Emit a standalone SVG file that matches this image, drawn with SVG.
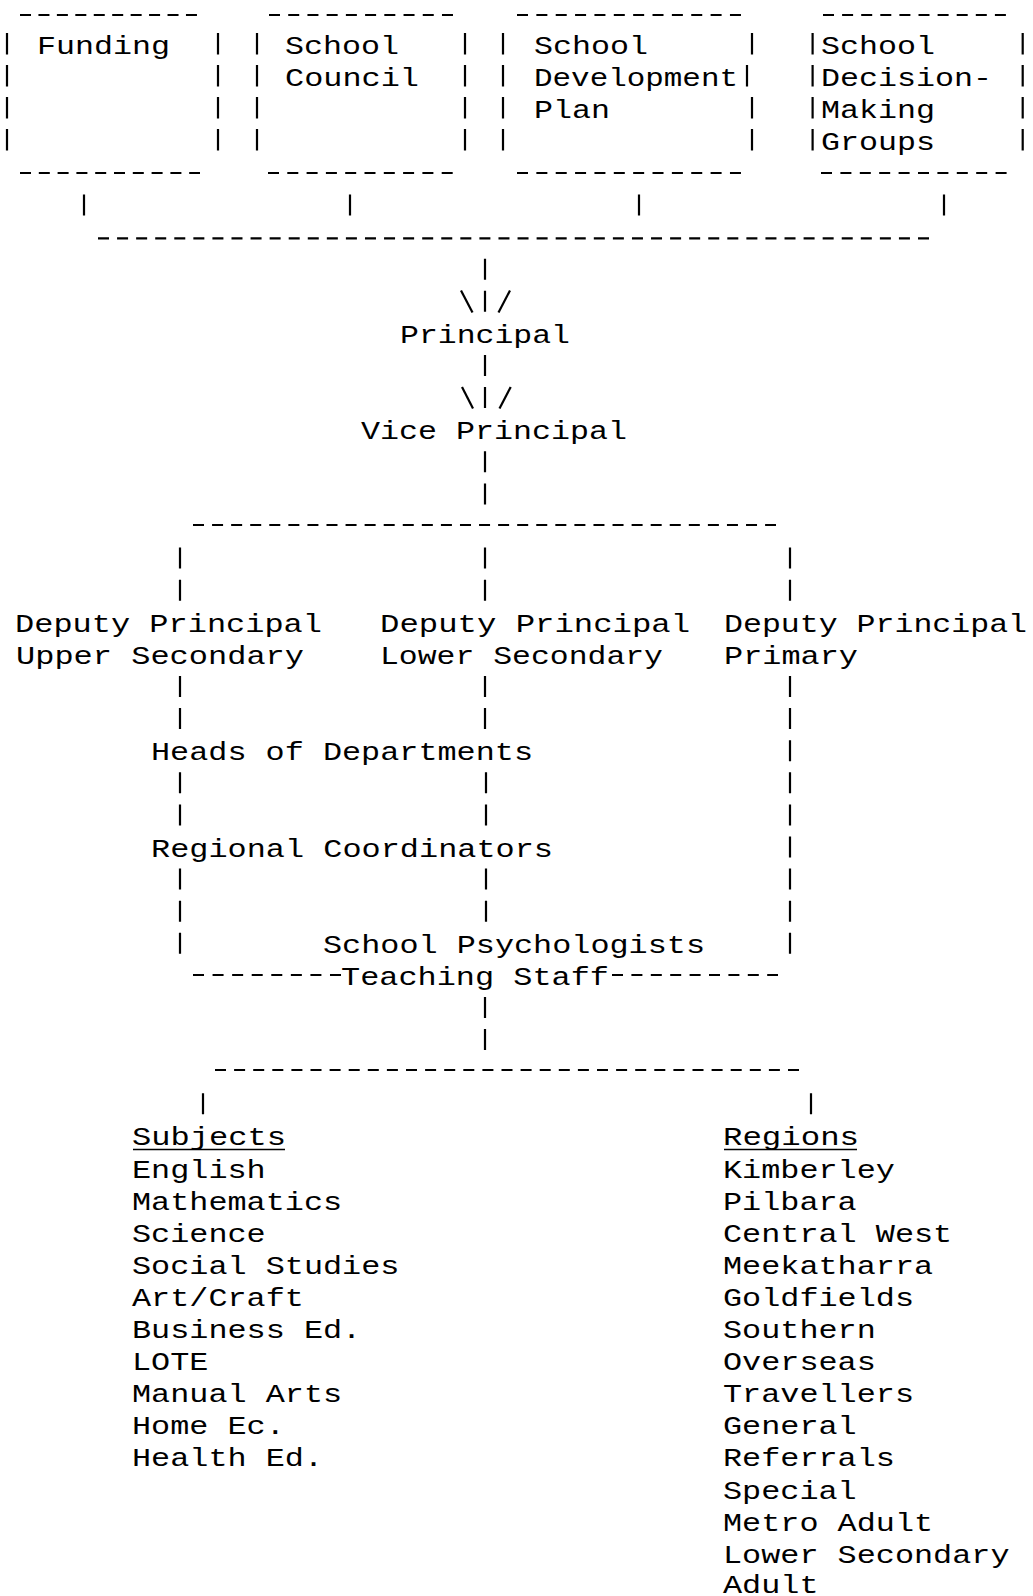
<svg xmlns="http://www.w3.org/2000/svg" width="1033" height="1596" viewBox="0 0 1033 1596">
  <style>
    .t { font-family: "Liberation Mono", "DejaVu Sans Mono", monospace; font-size: 26px; fill: #000; }
    .pipe { stroke: #000; stroke-width: 2.2; fill: none; }
    .dash { stroke: #000; stroke-width: 2.2; fill: none; }
    .ul { stroke: #000; stroke-width: 1.6; }
  </style>
  <rect width="1033" height="1596" fill="#fff"/>

  <!-- top row of boxed inputs -->
  <g id="node-funding">
    <line class="dash" x1="20" y1="15" x2="197" y2="15" stroke-dasharray="11 7.44"/>
    <line class="dash" x1="20" y1="173" x2="200" y2="173" stroke-dasharray="11 7.8"/>
    <path class="pipe" d="M7 33V54.5M7 65V86.5M7 97V118.5M7 129V150.5M218 33V54.5M218 65V86.5M218 97V118.5M218 129V150.5"/>
    <text class="t" x="37" y="54" textLength="133" lengthAdjust="spacingAndGlyphs">Funding</text>
  </g>
  <g id="node-school-council">
    <line class="dash" x1="269" y1="15" x2="453" y2="15" stroke-dasharray="11 8.22"/>
    <line class="dash" x1="268" y1="173" x2="453" y2="173" stroke-dasharray="11 8.3"/>
    <path class="pipe" d="M257 33V54.5M257 65V86.5M257 97V118.5M257 129V150.5M465 33V54.5M465 65V86.5M465 97V118.5M465 129V150.5"/>
    <text class="t" x="285" y="54" textLength="114" lengthAdjust="spacingAndGlyphs">School</text>
    <text class="t" x="285" y="86.1" textLength="134" lengthAdjust="spacingAndGlyphs">Council</text>
  </g>
  <g id="node-development-plan">
    <line class="dash" x1="517" y1="15" x2="741" y2="15" stroke-dasharray="11 8.36"/>
    <line class="dash" x1="517" y1="173" x2="741" y2="173" stroke-dasharray="11 8.36"/>
    <path class="pipe" d="M503 33V54.5M503 65V86.5M503 97V118.5M503 129V150.5M752 33V54.5M747 65V86.5M752 97V118.5M752 129V150.5"/>
    <text class="t" x="534" y="54" textLength="114" lengthAdjust="spacingAndGlyphs">School</text>
    <text class="t" x="534" y="86.1" textLength="204" lengthAdjust="spacingAndGlyphs">Development</text>
    <text class="t" x="534" y="118.2" textLength="76" lengthAdjust="spacingAndGlyphs">Plan</text>
  </g>
  <g id="node-decision-groups">
    <line class="dash" x1="823" y1="15" x2="1006" y2="15" stroke-dasharray="11 8.1"/>
    <line class="dash" x1="821" y1="173" x2="1007" y2="173" stroke-dasharray="11 8.4"/>
    <path class="pipe" d="M812.6 33V54.5M812.6 65V86.5M812.6 97V118.5M812.6 129V150.5M1022.7 33V54.5M1022.7 65V86.5M1022.7 97V118.5M1022.7 129V150.5"/>
    <text class="t" x="821" y="54" textLength="114" lengthAdjust="spacingAndGlyphs">School</text>
    <text class="t" x="821" y="86.1" textLength="171" lengthAdjust="spacingAndGlyphs">Decision-</text>
    <text class="t" x="821" y="118.2" textLength="114" lengthAdjust="spacingAndGlyphs">Making</text>
    <text class="t" x="821" y="150.3" textLength="114" lengthAdjust="spacingAndGlyphs">Groups</text>
  </g>

  <!-- management chain -->
  <g id="node-principal">
    <text class="t" x="400" y="342.9" textLength="170" lengthAdjust="spacingAndGlyphs">Principal</text>
  </g>
  <g id="node-vice-principal">
    <text class="t" x="361" y="439.2" textLength="266" lengthAdjust="spacingAndGlyphs">Vice Principal</text>
  </g>
  <g id="node-dp-upper">
    <text class="t" x="15" y="631.8" textLength="307" lengthAdjust="spacingAndGlyphs">Deputy Principal</text>
    <text class="t" x="16" y="663.9" textLength="288" lengthAdjust="spacingAndGlyphs">Upper Secondary</text>
  </g>
  <g id="node-dp-lower">
    <text class="t" x="380" y="631.8" textLength="310" lengthAdjust="spacingAndGlyphs">Deputy Principal</text>
    <text class="t" x="380" y="663.9" textLength="283" lengthAdjust="spacingAndGlyphs">Lower Secondary</text>
  </g>
  <g id="node-dp-primary">
    <text class="t" x="724" y="631.8" textLength="303" lengthAdjust="spacingAndGlyphs">Deputy Principal</text>
    <text class="t" x="724" y="663.9" textLength="134" lengthAdjust="spacingAndGlyphs">Primary</text>
  </g>
  <g id="node-heads">
    <text class="t" x="151" y="760.2" textLength="382" lengthAdjust="spacingAndGlyphs">Heads of Departments</text>
  </g>
  <g id="node-regional">
    <text class="t" x="151" y="856.5" textLength="402" lengthAdjust="spacingAndGlyphs">Regional Coordinators</text>
  </g>
  <g id="node-psychologists">
    <text class="t" x="323" y="952.8" textLength="382" lengthAdjust="spacingAndGlyphs">School Psychologists</text>
  </g>
  <g id="node-teaching-staff">
    <text class="t" x="341" y="984.9" textLength="268" lengthAdjust="spacingAndGlyphs">Teaching Staff</text>
  </g>

  <!-- subject and region lists -->
  <g id="node-subjects">
    <text class="t" x="132" y="1145.4" textLength="154" lengthAdjust="spacingAndGlyphs">Subjects</text>
    <line class="ul" x1="133" y1="1149.5" x2="285" y2="1149.5"/>
    <text class="t" x="132" y="1177.5" textLength="133.7" lengthAdjust="spacingAndGlyphs">English</text>
    <text class="t" x="132" y="1209.6" textLength="210.1" lengthAdjust="spacingAndGlyphs">Mathematics</text>
    <text class="t" x="132" y="1241.7" textLength="133.7" lengthAdjust="spacingAndGlyphs">Science</text>
    <text class="t" x="132" y="1273.8" textLength="267.4" lengthAdjust="spacingAndGlyphs">Social Studies</text>
    <text class="t" x="132" y="1305.9" textLength="171.9" lengthAdjust="spacingAndGlyphs">Art/Craft</text>
    <text class="t" x="132" y="1338" textLength="229.2" lengthAdjust="spacingAndGlyphs">Business Ed.</text>
    <text class="t" x="132" y="1370.1" textLength="76.4" lengthAdjust="spacingAndGlyphs">LOTE</text>
    <text class="t" x="132" y="1402.2" textLength="210.1" lengthAdjust="spacingAndGlyphs">Manual Arts</text>
    <text class="t" x="132" y="1434.3" textLength="152.8" lengthAdjust="spacingAndGlyphs">Home Ec.</text>
    <text class="t" x="132" y="1466.4" textLength="191" lengthAdjust="spacingAndGlyphs">Health Ed.</text>
  </g>
  <g id="node-regions">
    <text class="t" x="723" y="1145.4" textLength="136" lengthAdjust="spacingAndGlyphs">Regions</text>
    <line class="ul" x1="724" y1="1149.5" x2="857" y2="1149.5"/>
    <text class="t" x="723" y="1177.5" textLength="171.9" lengthAdjust="spacingAndGlyphs">Kimberley</text>
    <text class="t" x="723" y="1209.6" textLength="133.7" lengthAdjust="spacingAndGlyphs">Pilbara</text>
    <text class="t" x="723" y="1241.7" textLength="229.2" lengthAdjust="spacingAndGlyphs">Central West</text>
    <text class="t" x="723" y="1273.8" textLength="210.1" lengthAdjust="spacingAndGlyphs">Meekatharra</text>
    <text class="t" x="723" y="1305.9" textLength="191" lengthAdjust="spacingAndGlyphs">Goldfields</text>
    <text class="t" x="723" y="1338" textLength="152.8" lengthAdjust="spacingAndGlyphs">Southern</text>
    <text class="t" x="723" y="1370.1" textLength="152.8" lengthAdjust="spacingAndGlyphs">Overseas</text>
    <text class="t" x="723" y="1402.2" textLength="191" lengthAdjust="spacingAndGlyphs">Travellers</text>
    <text class="t" x="723" y="1434.3" textLength="133.7" lengthAdjust="spacingAndGlyphs">General</text>
    <text class="t" x="723" y="1466.4" textLength="171.9" lengthAdjust="spacingAndGlyphs">Referrals</text>
    <text class="t" x="723" y="1498.5" textLength="133.7" lengthAdjust="spacingAndGlyphs">Special</text>
    <text class="t" x="723" y="1530.6" textLength="210.1" lengthAdjust="spacingAndGlyphs">Metro Adult</text>
    <text class="t" x="723" y="1562.7" textLength="286.5" lengthAdjust="spacingAndGlyphs">Lower Secondary</text>
    <text class="t" x="723" y="1593" textLength="95.5" lengthAdjust="spacingAndGlyphs">Adult</text>
  </g>

  <!-- typed connectors: pipes, dashed buses and \|/ arrowheads -->
  <g id="connectors">
    <!-- drops from the four boxes and the collecting bus -->
    <path class="pipe" d="M84 194.5V215.5M350 194.5V215.5M639 194.5V215.5M944 194.5V215.5"/>
    <line class="dash" x1="98" y1="238.3" x2="929" y2="238.3" stroke-dasharray="11 8.07"/>

    <!-- bus to Principal -->
    <path class="pipe" d="M485 258.7V279.7M485 290.8V311.8"/>
    <line class="pipe" x1="461" y1="290.5" x2="472.5" y2="312.5"/>
    <line class="pipe" x1="510" y1="290.5" x2="498.5" y2="312.5"/>

    <!-- Principal to Vice Principal -->
    <path class="pipe" d="M485 355V376M485 387V408"/>
    <line class="pipe" x1="462" y1="387" x2="473" y2="408.5"/>
    <line class="pipe" x1="510.7" y1="387" x2="499.5" y2="408.5"/>

    <!-- Vice Principal down to the deputy bus -->
    <path class="pipe" d="M485 451.3V472.3M485 483.4V504.4"/>
    <line class="dash" x1="193" y1="525" x2="776" y2="525" stroke-dasharray="11 8.07"/>
    <path class="pipe" d="M180 547.6V568.6M180 579.7V600.7M485 547.6V568.6M485 579.7V600.7M790 547.6V568.6M790 579.7V600.7"/>

    <!-- three deputy columns -->
    <path class="pipe" d="M180 676V697M180 708.1V729.1M180 772.3V793.3M180 804.4V825.4M180 868.6V889.6M180 900.7V921.7M180 932.8V953.8"/>
    <path class="pipe" d="M485 676V697M485 708.1V729.1M486 772.3V793.3M486 804.4V825.4M486 868.6V889.6M486 900.7V921.7"/>
    <path class="pipe" d="M790 676V697M790 708.1V729.1M790 740.2V761.2M790 772.3V793.3M790 804.4V825.4M790 836.5V857.5M790 868.6V889.6M790 900.7V921.7M790 932.8V953.8"/>

    <!-- Teaching Staff bus -->
    <line class="dash" x1="193" y1="975" x2="341" y2="975" stroke-dasharray="11 8.57"/>
    <line class="dash" x1="612" y1="975" x2="778" y2="975" stroke-dasharray="11 8.4"/>

    <!-- down to the subject / region split -->
    <path class="pipe" d="M485 997V1018M485 1029.1V1050.1"/>
    <line class="dash" x1="215" y1="1070" x2="799" y2="1070" stroke-dasharray="11 8.1"/>
    <path class="pipe" d="M203 1093.3V1114.3M811 1093.3V1114.3"/>
  </g>
</svg>
